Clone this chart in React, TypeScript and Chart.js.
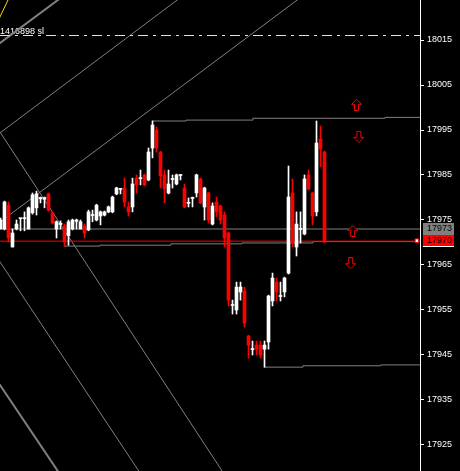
import React, { useEffect, useRef } from 'react';
import { Chart, registerables } from 'chart.js';

Chart.register(...registerables);

// ---- candle data (bar index 0..81) ----
const OPEN = [
  17973.0, 17973.0, 17978.3, 17969.0, 17973.0, 17975.3, 17975.3, 17973.0, 17976.6, 17977.7,
  17979.7, 17979.6, 17980.8, 17976.6, 17973.0, 17974.0, 17973.7, 17971.5, 17973.0, 17974.7,
  17973.0, 17973.7, 17972.8, 17976.0, 17975.0, 17975.9, 17976.1, 17976.8, 17976.8, 17980.8,
  17981.8, 17982.1, 17977.9, 17977.9, 17984.3, 17984.2, 17985.0, 17983.9, 17991.0, 17995.0,
  17990.1, 17985.0, 17981.0, 17984.0, 17983.0, 17984.9, 17982.1, 17978.7, 17979.8, 17981.0,
  17984.1, 17977.9, 17981.0, 17974.1, 17979.0, 17978.1, 17976.1, 17972.1, 17956.0, 17955.0,
  17959.0, 17959.2, 17949.2, 17946.2, 17947.2, 17947.2, 17946.3, 17947.9, 17957.0, 17961.2,
  17958.0, 17959.0, 17963.2, 17981.0, 17969.0, 17972.9, 17971.9, 17985.0, 17981.0, 17976.8,
  17993.0, 17990.1,
];
const HIGH = [
  17975.4, 17979.2, 17979.0, 17973.0, 17975.0, 17975.4, 17976.8, 17977.9, 17981.0, 17981.4,
  17980.1, 17980.1, 17981.0, 17976.8, 17974.8, 17974.8, 17974.1, 17975.0, 17975.2, 17975.2,
  17975.0, 17974.1, 17977.2, 17977.2, 17978.5, 17977.0, 17977.0, 17978.1, 17980.3, 17982.3,
  17981.9, 17984.3, 17979.0, 17984.3, 17985.0, 17986.1, 17985.2, 17991.0, 17997.0, 17995.7,
  17990.3, 17986.1, 17986.1, 17985.0, 17985.2, 17985.0, 17983.0, 17979.9, 17980.1, 17985.2,
  17984.3, 17982.3, 17981.2, 17978.8, 17980.1, 17978.3, 17976.8, 17972.3, 17957.2, 17961.2,
  17961.2, 17960.1, 17949.4, 17948.1, 17948.1, 17948.1, 17948.1, 17958.3, 17963.2, 17962.1,
  17961.2, 17962.3, 17987.0, 17984.1, 17976.8, 17976.8, 17985.0, 17986.1, 17981.2, 17997.0,
  17995.9, 17990.3,
];
const LOW = [
  17973.0, 17972.8, 17970.1, 17969.0, 17972.8, 17972.6, 17972.6, 17973.0, 17976.3, 17976.1,
  17978.8, 17977.7, 17977.0, 17974.1, 17971.0, 17973.0, 17969.2, 17969.4, 17972.8, 17973.0,
  17973.0, 17971.0, 17972.6, 17974.6, 17974.8, 17973.9, 17975.9, 17976.6, 17976.6, 17980.6,
  17980.8, 17977.9, 17975.9, 17976.8, 17981.0, 17982.8, 17982.6, 17983.7, 17988.8, 17990.1,
  17982.1, 17978.8, 17980.8, 17982.1, 17982.8, 17983.9, 17977.7, 17977.9, 17977.9, 17980.1,
  17978.6, 17975.0, 17974.3, 17973.9, 17975.7, 17974.1, 17969.0, 17955.9, 17954.1, 17954.1,
  17957.2, 17951.2, 17944.3, 17945.0, 17945.0, 17944.3, 17942.3, 17946.3, 17955.9, 17957.0,
  17957.0, 17957.9, 17963.0, 17969.0, 17967.0, 17969.9, 17971.7, 17981.7, 17973.9, 17975.9,
  17986.8, 17969.9,
];
const CLOSE = [
  17975.0, 17979.0, 17971.0, 17972.1, 17974.1, 17975.4, 17975.5, 17977.7, 17980.6, 17980.8,
  17980.0, 17980.0, 17977.2, 17974.3, 17974.6, 17974.3, 17970.1, 17974.6, 17975.0, 17975.0,
  17974.6, 17972.1, 17976.8, 17976.1, 17978.3, 17976.8, 17976.8, 17977.9, 17980.1, 17982.1,
  17981.9, 17979.0, 17976.8, 17983.0, 17982.8, 17984.3, 17982.8, 17990.1, 17996.1, 17991.0,
  17984.8, 17981.9, 17983.0, 17984.1, 17985.0, 17985.0, 17977.9, 17978.8, 17979.9, 17985.0,
  17978.8, 17982.1, 17975.0, 17978.1, 17976.8, 17975.0, 17971.0, 17957.2, 17956.1, 17960.1,
  17960.1, 17952.1, 17947.2, 17946.3, 17946.3, 17945.0, 17947.2, 17958.1, 17962.1, 17959.0,
  17958.1, 17962.1, 17980.1, 17969.9, 17974.1, 17973.0, 17984.1, 17981.9, 17975.9, 17992.1,
  17990.8, 17970.1,
];

// ---- axis ----
const Y_TICKS = [17925, 17935, 17945, 17955, 17965, 17975, 17985, 17995, 18005, 18015];
const Y_MIN = 17919.22;
const Y_MAX = 18023.89;
const X_MIN = -0.125;
const X_MAX = 104.875;

// ---- horizontal levels ----
const SL_PRICE = 18016;
const SL_LABEL = '1416898 sl';
const ASK_PRICE = 17973;
const BID_PRICE = 17970.3;
const ASK_LABEL = '17973';
const BID_LABEL = '17970';

// stepped level lines [barIndex, price]
const RESIST_LINE = [[37.9, 17997.0], [46.4, 17997.2], [63.1, 17997.6], [96.1, 17997.8], [104.9, 17997.8]];
const SUPPORT_LINE = [[15.9, 17969.2], [24.9, 17969.4], [42.6, 17969.7], [60.4, 17969.9], [78.1, 17970.2], [103.6, 17970.2]];
const LOW_LINE = [[65.9, 17942.3], [75.6, 17942.6], [95.1, 17942.8], [104.9, 17942.8]];

// diagonal trend / fan lines [barIndex, price]
const FAN_A = [[-2, 18013.1], [18, 18026.3]];
const FAN_B = [[-2, 17993.1], [46, 18025.1]];
const FAN_C = [[-2, 17973.3], [76, 18025.1]];
const FAN_D = [[-2, 17997.1], [56, 17918.4]];
const FAN_E = [[-2, 17968.2], [36, 17917.3]];
const FAN_F = [[-2, 17940.8], [16, 17917.0]];
const YELLOW_LINE = [[-1, 18018.5], [3, 18026.0]];

// arrows [barIndex, price, direction]
const ARROW_X = [89.0, 89.6, 88.05, 87.55];
const ARROW_Y = [18000.6, 17993.5, 17972.6, 17965.4];
const ARROW_UP = [true, false, true, false];

const MARKER = [[104.1, 17970.4]];

const BULL = '#ffffff';
const BEAR = '#ff0000';
const GRAY = '#808080';

function toPts(arr: number[][]) {
  return arr.map(([x, y]) => ({ x, y }));
}

function makeArrow(up: boolean) {
  const c = document.createElement('canvas');
  c.width = 11;
  c.height = 12;
  const g = c.getContext('2d')!;
  const pts = [[5.5, 0.5], [10.5, 5.5], [7.5, 5.5], [7.5, 11.5], [3.5, 11.5], [3.5, 5.5], [0.5, 5.5]];
  g.beginPath();
  pts.forEach(([px, py], k) => {
    const yy = up ? py : 12 - py;
    if (k === 0) g.moveTo(px, yy);
    else g.lineTo(px, yy);
  });
  g.closePath();
  g.fillStyle = '#000';
  g.fill();
  g.strokeStyle = '#ff0000';
  g.lineWidth = 1;
  g.stroke();
  return c;
}

const FONT = '"Liberation Sans", Arial, sans-serif';

export default function App() {
  const ref = useRef<HTMLCanvasElement | null>(null);

  useEffect(() => {
    if (!ref.current) return;
    const idx = OPEN.map((_, i) => i);
    const colors = idx.map((i) => (CLOSE[i] >= OPEN[i] ? BULL : BEAR));
    const upImg = makeArrow(true);
    const downImg = makeArrow(false);

    const lineDs = (data: number[][], color: string, width: number, extra: any = {}) => ({
      type: 'line' as const,
      data: toPts(data),
      borderColor: color,
      borderWidth: width,
      pointRadius: 0,
      fill: false,
      tension: 0,
      order: 5,
      ...extra,
    });

    const overlay = {
      id: 'overlay',
      beforeDatasetsDraw(chart: any) {
        const { ctx, scales } = chart;
        ctx.save();
        ctx.font = `9px ${FONT}`;
        ctx.fillStyle = '#ffffff';
        ctx.textBaseline = 'alphabetic';
        ctx.textAlign = 'left';
        ctx.fillText(SL_LABEL, scales.x.getPixelForValue(X_MIN), scales.y.getPixelForValue(SL_PRICE) - 1.5);
        ctx.restore();
      },
      afterDraw(chart: any) {
        const { ctx, scales, chartArea } = chart;
        const left = chartArea.right + 3;
        const w = 31;
        const ya = Math.round(scales.y.getPixelForValue(ASK_PRICE));
        ctx.save();
        ctx.font = `9px ${FONT}`;
        ctx.textBaseline = 'middle';
        ctx.textAlign = 'left';
        ctx.fillStyle = GRAY;
        ctx.fillRect(left, ya - 6, w, 12);
        ctx.fillStyle = '#000';
        ctx.fillText(ASK_LABEL, left + 4, ya);
        ctx.fillStyle = '#ff0000';
        ctx.fillRect(left, ya + 6, w, 11);
        ctx.fillStyle = '#000';
        ctx.fillText(BID_LABEL, left + 4, ya + 11.5);
        ctx.fillStyle = '#ffffff';
        ctx.fillRect(left, ya + 17, w, 1);
        ctx.restore();
      },
    };

    const chart = new Chart(ref.current, {
      type: 'bar',
      data: {
        datasets: [
          {
            type: 'line',
            data: ARROW_X.map((x, i) => ({ x, y: ARROW_Y[i] })),
            showLine: false,
            pointStyle: ARROW_UP.map((u) => (u ? upImg : downImg)),
            pointRadius: 5,
            order: 0,
          } as any,
          {
            type: 'line',
            data: toPts(MARKER),
            showLine: false,
            pointStyle: 'rect',
            pointRadius: 2.5,
            pointBackgroundColor: '#ffffff',
            pointBorderColor: '#ff0000',
            pointBorderWidth: 1,
            order: 0,
          } as any,
          {
            type: 'bar',
            data: idx.map((i) => ({ x: i, y: [OPEN[i], CLOSE[i]] })),
            backgroundColor: colors,
            borderWidth: 0,
            barThickness: 3,
            minBarLength: 1,
            grouped: false,
            order: 1,
          } as any,
          {
            type: 'bar',
            data: idx.map((i) => ({ x: i, y: [LOW[i], HIGH[i]] })),
            backgroundColor: colors,
            borderWidth: 0,
            barThickness: 1,
            minBarLength: 1,
            grouped: false,
            order: 2,
          } as any,
          lineDs([[X_MIN, SL_PRICE], [X_MAX, SL_PRICE]], '#ffdcb4', 1, { borderDash: [10, 5, 3, 5] }),
          lineDs([[X_MIN, ASK_PRICE], [X_MAX, ASK_PRICE]], GRAY, 1),
          lineDs([[X_MIN, BID_PRICE], [X_MAX, BID_PRICE]], '#ff0000', 1),
          lineDs(RESIST_LINE, GRAY, 1, { stepped: 'before' }),
          lineDs(SUPPORT_LINE, GRAY, 1, { stepped: 'before' }),
          lineDs(LOW_LINE, GRAY, 1, { stepped: 'before' }),
          lineDs(FAN_A, GRAY, 2),
          lineDs(FAN_B, GRAY, 1),
          lineDs(FAN_C, GRAY, 1),
          lineDs(FAN_D, GRAY, 1),
          lineDs(FAN_E, GRAY, 1),
          lineDs(FAN_F, GRAY, 2),
          lineDs(YELLOW_LINE, '#ffd700', 1),
        ] as any,
      },
      options: {
        animation: false,
        responsive: false,
        maintainAspectRatio: false,
        layout: { padding: 0, autoPadding: false },
        plugins: { legend: { display: false }, tooltip: { enabled: false } },
        events: [],
        scales: {
          x: {
            type: 'linear',
            min: X_MIN,
            max: X_MAX,
            offset: false,
            display: false,
          },
          y: {
            type: 'linear',
            position: 'right',
            min: Y_MIN,
            max: Y_MAX,
            beginAtZero: false,
            afterBuildTicks: (s: any) => {
              s.ticks = Y_TICKS.map((v) => ({ value: v }));
            },
            afterFit: (s: any) => {
              s.width = 40;
              s.paddingTop = 0;
              s.paddingBottom = 0;
            },
            grid: { drawOnChartArea: false, drawTicks: true, tickLength: 4, color: '#ffffff' },
            border: { display: true, color: '#ffffff', width: 1 },
            ticks: {
              color: '#ffffff',
              padding: 3,
              font: { family: FONT, size: 9 },
              callback: (v: any) => String(v),
            },
          },
        },
      } as any,
      plugins: [overlay],
    });
    return () => chart.destroy();
  }, []);

  return (
    <div style={{ position: 'fixed', left: 0, top: 0, width: 460, height: 471, background: '#000' }}>
      <canvas ref={ref} width={460} height={471} style={{ display: 'block' }} />
    </div>
  );
}
